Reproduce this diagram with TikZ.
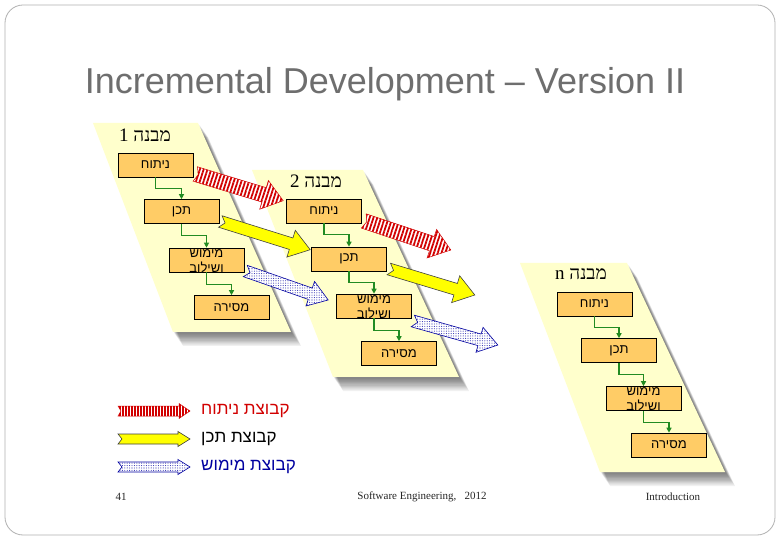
\documentclass[tikz,border=0pt]{standalone}
\usepackage{fontspec}
\setmainfont{Liberation Sans}
\newfontfamily\hebsans[Script=Hebrew]{Liberation Sans}
\newfontfamily\hebserif[Script=Hebrew]{Liberation Serif}
\newfontfamily\footfont{Liberation Serif}
\TeXXeTstate=1
\usetikzlibrary{calc,patterns.meta,arrows.meta}
\definecolor{parafill}{RGB}{255,255,204}
\definecolor{boxfill}{RGB}{255,204,102}
\definecolor{conngreen}{RGB}{34,139,34}
\definecolor{hatchred}{RGB}{210,0,0}
\definecolor{dotblue}{RGB}{0,0,160}
\definecolor{titlegray}{RGB}{110,110,110}
\definecolor{arrowyellow}{RGB}{255,255,0}
\tikzset{
  stagebox/.style={draw=black, line width=0.6pt, fill=boxfill, minimum width=75pt, minimum height=24pt, inner sep=0pt},
  stagetext/.style={font=\hebsans\fontsize{13}{15}\selectfont, align=center, inner sep=0pt},
  conn/.style={draw=conngreen, line width=1.2pt, -{Triangle[length=5pt,width=5pt]}},
  buildlabel/.style={font=\hebserif\fontsize{19}{22}\selectfont, inner sep=0pt},
  redarrow/.style={preaction={fill=white}, pattern={Lines[angle=72,distance=3.6pt,line width=1.8pt]}, pattern color=hatchred, draw=hatchred, line width=0.5pt},
  redlegend/.style={preaction={fill=white}, pattern={Lines[angle=90,distance=3pt,line width=1.4pt]}, pattern color=hatchred, draw=hatchred, line width=0.5pt},
  yellowarrow/.style={fill=arrowyellow, draw=black!75, line width=0.6pt},
  bluearrow/.style={preaction={fill=white}, pattern={Dots[distance=2.4pt,radius=0.55pt]}, pattern color=dotblue!80, draw=dotblue, line width=0.6pt},
  legendtext/.style={font=\hebsans\fontsize{17}{20}\selectfont, inner sep=0pt, anchor=west},
  foottext/.style={font=\footfont\fontsize{11}{13}\selectfont, text=black!85, inner sep=0pt},
  shadowlayer/.style={fill=black, opacity=0.06},
  parastyle/.style={fill=parafill}
}
% #1 style, #2 from, #3 to, #4 half shaft, #5 half head, #6 head length, #7 notch
\newcommand{\fatarrow}[7]{%
  \path coordinate (fa-h) at ($(#3)!#6!(#2)$);
  \path[#1] ($(#2)!#4!90:(#3)$) -- ($(fa-h)!#4!90:(#3)$) -- ($(fa-h)!#5!90:(#3)$) -- (#3)
    -- ($(fa-h)!#5!-90:(#3)$) -- ($(fa-h)!#4!-90:(#3)$) -- ($(#2)!#4!-90:(#3)$) -- ($(#2)!#7!(#3)$) -- cycle;}
\newcommand{\buildpara}[4]{%
  \foreach \d in {1,...,10}{\fill[shadowlayer, shift={(0.9*\d+1,1.3*\d+1)}] #1 -- #2 -- #3 -- #4 -- cycle;}
  \fill[parastyle] #1 -- #2 -- #3 -- #4 -- cycle;}
\begin{document}
\begin{tikzpicture}[x=1pt,y=-1pt]
\useasboundingbox (0,0) rectangle (780,540);
\fill[white] (0,0) rectangle (780,540);
\draw[black!30, line width=0.8pt, rounded corners=18pt] (5,5) rectangle (775,535);

\node[font=\fontsize{36}{42}\selectfont, text=titlegray, inner sep=0pt] (title) at (385,84) {\scalebox{1.0}[1]{Incremental Development -- Version II}};

% build areas
\buildpara{(93,123)}{(198,123)}{(291,332)}{(173,332)}
\buildpara{(252,170)}{(363,170)}{(459,377)}{(333,377)}
\buildpara{(520,263)}{(627,263)}{(725,472)}{(600,472)}

\node[buildlabel] (L1) at (145,135) {\beginR מבנה 1\endR};
\node[buildlabel] (L2) at (316,181) {\beginR מבנה 2\endR};
\node[buildlabel] (L3) at (581,274) {\beginR מבנה n\endR};

% group 1
\node[stagebox] (n1) at (155.5,165) {};
\node[stagebox] (t1) at (181.5,211.5) {};
\node[stagebox] (m1) at (206.5,260) {};
\node[stagebox] (s1) at (231.5,307.5) {};
% group 2
\node[stagebox] (n2) at (324,211) {};
\node[stagebox] (t2) at (349,259) {};
\node[stagebox] (m2) at (374,306) {};
\node[stagebox] (s2) at (399,353.5) {};
% group 3
\node[stagebox] (n3) at (594.5,304) {};
\node[stagebox] (t3) at (619,350.5) {};
\node[stagebox] (m3) at (643.5,398.5) {};
\node[stagebox] (s3) at (669,445) {};

\foreach \g in {1,2,3}{
  \node[stagetext] (n\g txt) at (n\g.center) {\beginR ניתוח\endR};
  \node[stagetext] (t\g txt) at (t\g.center) {\beginR תכן\endR};
  \node[stagetext] (m\g txt) at ($(m\g.center)+(0,1)$) {\beginR מימוש\endR\\\beginR ושילוב\endR};
  \node[stagetext] (s\g txt) at (s\g.center) {\beginR מסירה\endR};
  \draw[conn] (n\g.south) -- ++(0,11) -| (t\g.north);
  \draw[conn] (t\g.south) -- ++(0,11.5) -| (m\g.north);
  \draw[conn] (m\g.south) -- ++(0,12) -| (s\g.north);
}

% transfer arrows
\coordinate (r1s) at ($(n1.east)+(2,9)$);
\coordinate (r1e) at ($(n2.north west)+(-3,2)$);
\coordinate (y1s) at ($(t1.east)+(1,10)$);
\coordinate (y1e) at ($(t2.north west)+(-1,3)$);
\coordinate (b1s) at ($(m1.east)+(1,11)$);
\coordinate (b1e) at ($(m2.west)+(-8,-6)$);
\coordinate (r2s) at ($(n2.east)+(2,10)$);
\coordinate (r2e) at ($(n2.east)+(89,39)$);
\coordinate (y2s) at ($(t2.east)+(2,10)$);
\coordinate (y2e) at ($(t2.east)+(88,36)$);
\coordinate (b2s) at ($(m2.east)+(1,15)$);
\coordinate (b2e) at ($(m2.east)+(86,39)$);

\fatarrow{redarrow}{r1s}{r1e}{7.5pt}{15pt}{20pt}{3pt}
\fatarrow{yellowarrow}{y1s}{y1e}{6pt}{14pt}{20pt}{5pt}
\fatarrow{bluearrow}{b1s}{b1e}{6pt}{13pt}{19pt}{5pt}
\fatarrow{redarrow}{r2s}{r2e}{7.5pt}{15pt}{20pt}{3pt}
\fatarrow{yellowarrow}{y2s}{y2e}{6pt}{14pt}{20pt}{5pt}
\fatarrow{bluearrow}{b2s}{b2e}{6pt}{13pt}{19pt}{5pt}

% legend
\coordinate (lr1) at (118,411); \coordinate (lr2) at (190,411);
\coordinate (ly1) at (118,439); \coordinate (ly2) at (190,439);
\coordinate (lb1) at (118,467); \coordinate (lb2) at (190,467);
\fatarrow{redlegend}{lr1}{lr2}{5pt}{7.5pt}{11pt}{3pt}
\fatarrow{yellowarrow}{ly1}{ly2}{5pt}{7.5pt}{12pt}{4pt}
\fatarrow{bluearrow}{lb1}{lb2}{5pt}{7.5pt}{12pt}{4pt}
\node[legendtext, text=hatchred] (lt1) at (201,411) {\beginR קבוצת ניתוח\endR};
\node[legendtext, text=black] (lt2) at (201,439) {\beginR קבוצת תכן\endR};
\node[legendtext, text=dotblue] (lt3) at (201,467) {\beginR קבוצת מימוש\endR};

% footer
\node[foottext] (f1) at (121,497) {41};
\node[foottext] (f2) at (422,497) {Software Engineering,\ \ \ 2012};
\node[foottext] (f3) at (673,497) {Introduction};
\end{tikzpicture}
\end{document}
